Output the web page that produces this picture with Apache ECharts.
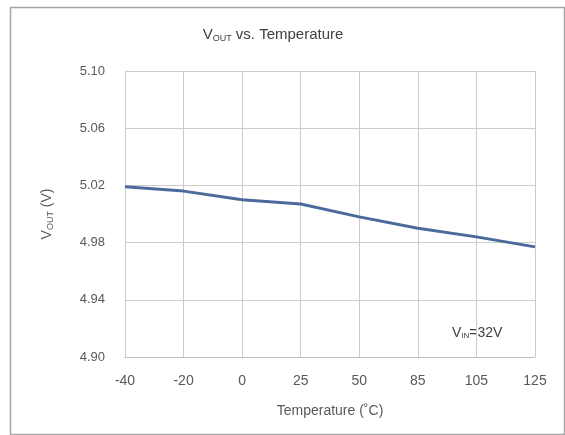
<!DOCTYPE html>
<html>
<head>
<meta charset="utf-8">
<script src="https://cdn.jsdelivr.net/npm/echarts@6/dist/echarts.min.js"></script>
<style>
  html, body { margin: 0; padding: 0; background: #fff; }
  #chart { width: 565px; height: 435px; }
</style>
</head>
<body>
<div id="chart"></div>
<script>
// data
var temps = ['-40', '-20', '0', '25', '50', '85', '105', '125'];
var vout = [5.019, 5.016, 5.010, 5.007, 4.998, 4.990, 4.984, 4.977];
var yTicks = { min: 4.90, max: 5.10, step: 0.04 };

var textColor = '#595959';
var chart = echarts.init(document.getElementById('chart'));

var option = {
    backgroundColor: '#fff',
    animation: false,
    textStyle: { fontFamily: 'Liberation Sans, Arial, sans-serif' },
    title: {
        text: '{v|V}{s|OUT}{v| vs. Temperature}',
        left: 268,
        top: 22,
        textAlign: 'center',
        textStyle: {
            fontWeight: 'normal',
            rich: {
                v: { fontSize: 15, color: '#404040', fontWeight: 'normal' },
                s: { fontSize: 9, color: '#404040', fontWeight: 'normal', padding: [7, 0, 0, 0] }
            }
        }
    },
    grid: { left: 125, right: 30, top: 71, bottom: 78, containLabel: false },
    xAxis: {
        type: 'category',
        data: temps,
        boundaryGap: false,
        name: 'Temperature (˚C)',
        nameLocation: 'middle',
        nameGap: 47,
        nameTextStyle: { fontSize: 14, color: textColor },
        axisLine: { lineStyle: { color: '#bfbfbf', width: 1 } },
        axisTick: { show: false },
        axisLabel: { fontSize: 14, color: textColor, margin: 17 },
        splitLine: { show: true, lineStyle: { color: '#cccccc', width: 1 } }
    },
    yAxis: {
        type: 'value',
        min: yTicks.min,
        max: yTicks.max,
        interval: yTicks.step,
        name: '{v|V}{s|OUT}{v| (V)}',
        nameLocation: 'middle',
        nameGap: 70,
        nameTextStyle: {
            rich: {
                v: { fontSize: 14, color: textColor },
                s: { fontSize: 9, color: textColor, padding: [6, 0, 0, 0] }
            }
        },
        axisLine: { show: true, lineStyle: { color: '#cccccc' } },
        axisTick: { show: false },
        axisLabel: {
            fontSize: 13,
            color: textColor,
            margin: 20,
            formatter: function (v) { return v.toFixed(2); }
        },
        splitLine: { lineStyle: { color: '#cccccc', width: 1 } }
    },
    graphic: [
        {
            type: 'rect',
            left: 8, top: 5,
            shape: { width: 554, height: 427 },
            style: { fill: 'none', stroke: '#a6a6a6', lineWidth: 1.5 },
            silent: true
        },
        {
            type: 'text',
            left: 452, top: 326,
            style: {
                text: '{v|V}{s|IN}{v|=32V}',
                rich: {
                    v: { fontSize: 14, fill: '#404040' },
                    s: { fontSize: 8, fill: '#404040', padding: [6, 0, 0, 0] }
                }
            }
        }
    ],
    series: [{
        name: 'VOUT',
        type: 'line',
        data: vout,
        symbol: 'none',
        lineStyle: { color: '#4a6a9c', width: 3 }
    }]
};

chart.setOption(option);
</script>
</body>
</html>
